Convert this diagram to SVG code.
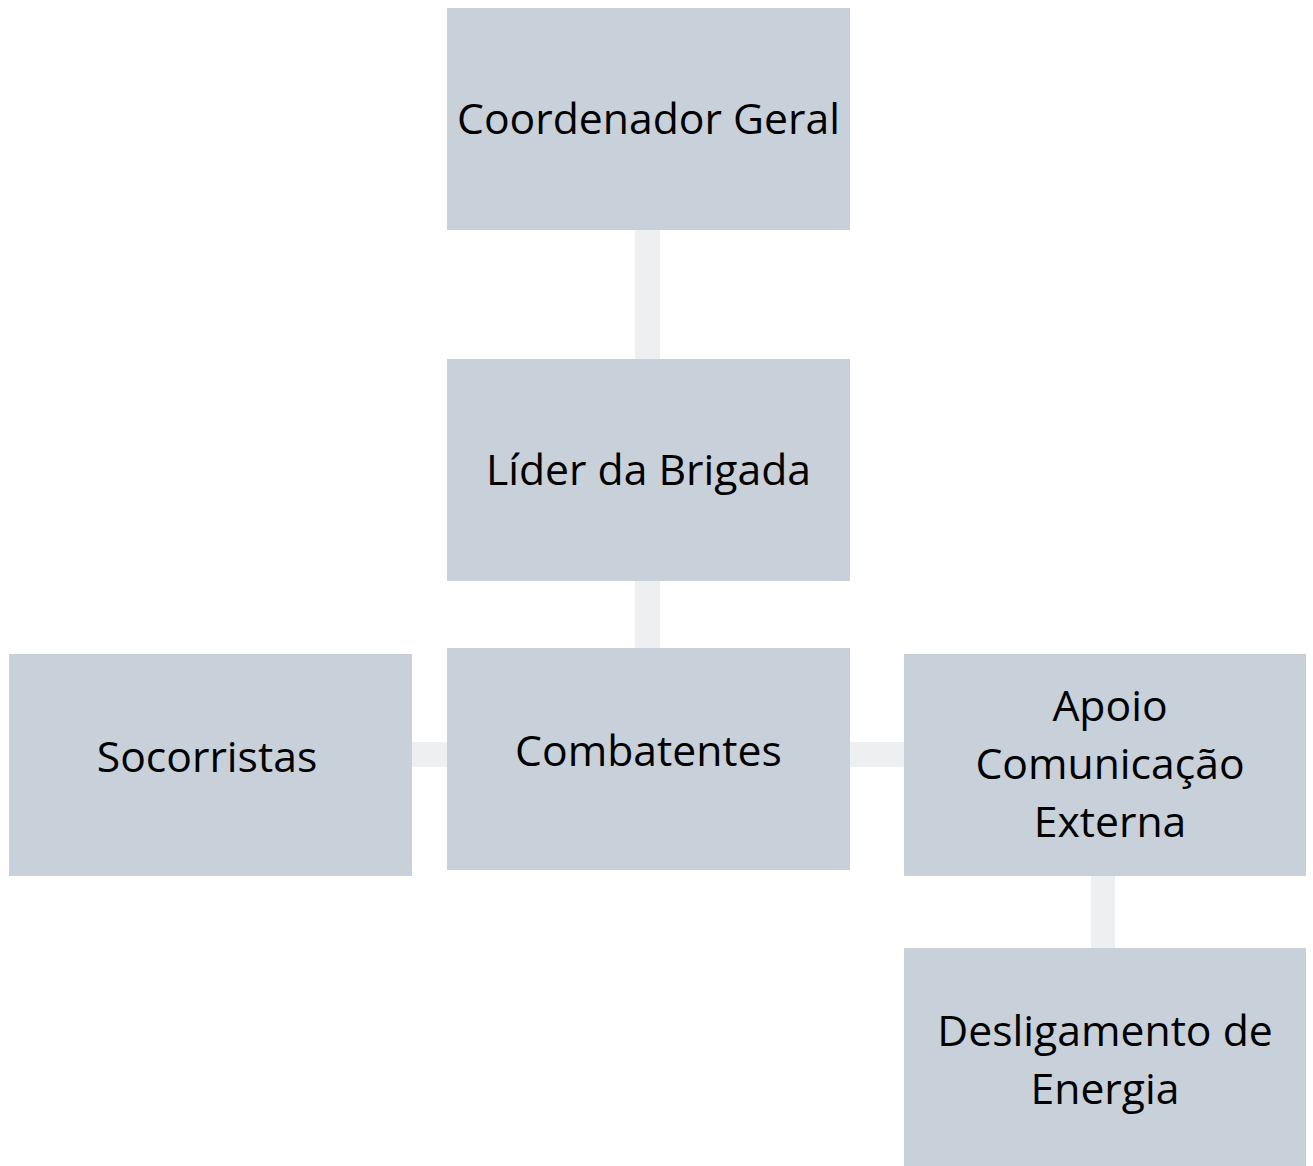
<svg xmlns="http://www.w3.org/2000/svg" width="1313" height="1166" viewBox="0 0 1313 1166">
<style>
.box{fill:#c8d0da}
.conn{fill:#eeeff1}
text{font-family:"Open Sans","Noto Sans",sans-serif;font-size:42.7px;fill:#000;text-anchor:middle}
</style>
<rect width="1313" height="1166" fill="#fff"/>
<g id="connectors">
<rect class="conn" x="635" y="230" width="25" height="129"/>
<rect class="conn" x="635" y="581" width="25" height="67"/>
<rect class="conn" x="412" y="742" width="35" height="25"/>
<rect class="conn" x="850" y="742" width="54" height="25"/>
<rect class="conn" x="1091" y="876" width="24" height="72"/>
</g>
<g id="coordenador"><rect class="box" x="447" y="8" width="403" height="222"/><text x="648.5" y="134">Coordenador Geral</text></g>
<g id="lider"><rect class="box" x="447" y="359" width="403" height="222"/><text x="648.5" y="485">Líder da Brigada</text></g>
<g id="combatentes"><rect class="box" x="447" y="648" width="403" height="222"/><text x="648.5" y="766">Combatentes</text></g>
<g id="socorristas"><rect class="box" x="9" y="654" width="403" height="222"/><text x="207" y="772">Socorristas</text></g>
<g id="apoio"><rect class="box" x="904" y="654" width="402" height="222"/><text x="1110" y="721">Apoio</text><text x="1110" y="779">Comunicação</text><text x="1110" y="837">Externa</text></g>
<g id="desligamento"><rect class="box" x="904" y="948" width="402" height="222"/><text x="1105" y="1046">Desligamento de</text><text x="1105" y="1104">Energia</text></g>
</svg>
